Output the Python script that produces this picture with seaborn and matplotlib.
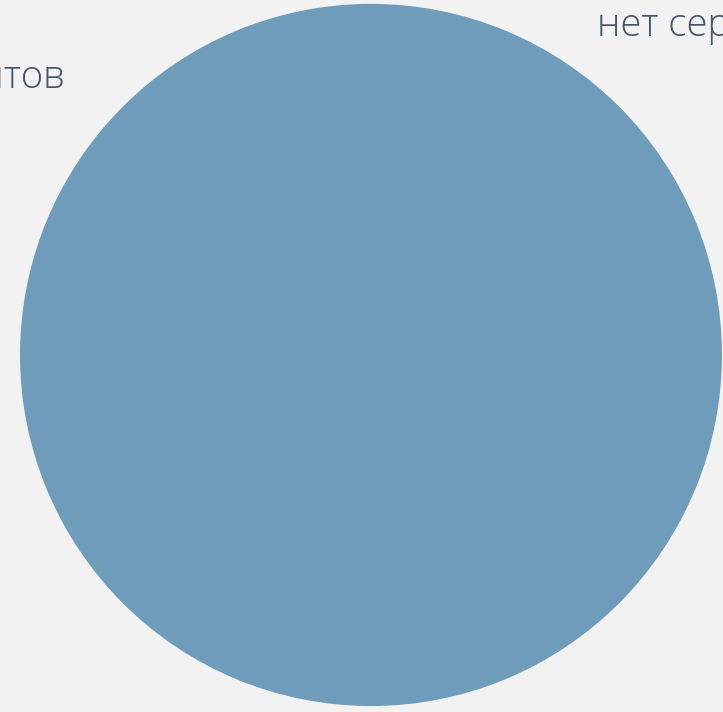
import matplotlib
matplotlib.use("Agg")
import matplotlib.pyplot as plt
import seaborn as sns

# === Data ===
categories = ["нет сертификатов", "нет документов"]
shares = [100, 0]
label_pos = [(0.644, 0.909, "left"), (-0.872, 0.761, "right")]

# === Style ===
sns.set_style("white", {"axes.facecolor": "#f2f2f2", "figure.facecolor": "#f2f2f2"})
plt.rcParams["font.family"] = ["Open Sans", "DejaVu Sans"]

slice_color = "#6f9cba"
text_color = "#435467"

fig = plt.figure(figsize=(7.23, 7.12), dpi=100)
ax = fig.add_axes([0, 0, 1, 1])

ax.pie(shares, colors=[slice_color, slice_color], startangle=90, counterclock=False,
       radius=1.0, wedgeprops={"linewidth": 0})

# === Slice labels ===
for cat, (x, y, ha) in zip(categories, label_pos):
    ax.text(x, y, cat, ha=ha, va="baseline", fontsize=27.5, color=text_color,
            fontweight="light")

ax.set_xlim(-1.057, 1.003)
ax.set_ylim(-1.017, 1.011)
ax.set_aspect("auto")
ax.axis("off")

fig.savefig("out.png", dpi=100, facecolor="#f2f2f2")
